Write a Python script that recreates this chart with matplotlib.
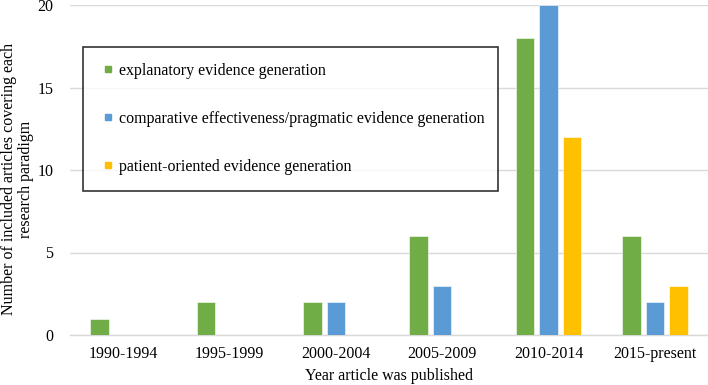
import matplotlib.pyplot as plt
from matplotlib.lines import Line2D
import numpy as np

plt.rcParams['font.family'] = ['Liberation Serif', 'DejaVu Serif']

periods = ['1990-1994', '1995-1999', '2000-2004', '2005-2009',
           '2010-2014', '2015-present']
explanatory = [1, 2, 2, 6, 18, 6]
comparative = [0, 0, 2, 3, 20, 2]
patient = [0, 0, 0, 0, 12, 3]

labels = ['explanatory evidence generation',
          'comparative effectiveness/pragmatic evidence generation',
          'patient-oriented evidence generation']
colors = ['#70AD47', '#5B9BD5', '#FFC000']

fs = 11.5

fig = plt.figure(figsize=(7.08, 3.85), dpi=100)
ax = fig.add_axes([70 / 708, 50 / 385, 638 / 708, 330 / 385])

x = np.arange(len(periods))
w = 0.175
step = 0.221
for i, vals in enumerate([explanatory, comparative, patient]):
    ax.bar(x + (i - 1) * step, vals, w, color=colors[i],
           edgecolor='white', linewidth=0.4, zorder=3)

ax.set_xlim(-0.5, len(periods) - 0.5)
ax.set_ylim(0, 20)
ax.set_yticks([0, 5, 10, 15, 20])
ax.set_xticks(x)
ax.set_xticklabels(periods)
ax.tick_params(axis='both', length=0, labelsize=fs)
ax.tick_params(axis='y', pad=12)
ax.tick_params(axis='x', pad=8)

ax.grid(axis='y', color='#d9d9d9', linewidth=1.0, zorder=0)
for s in ['top', 'right', 'left']:
    ax.spines[s].set_visible(False)
ax.spines['bottom'].set_color('#d9d9d9')
ax.spines['bottom'].set_linewidth(1.0)

ax.set_xlabel('Year article was published', fontsize=fs, labelpad=4)
ax.set_ylabel('Number of included articles covering each\nresearch paradigm',
              fontsize=fs, linespacing=1.1)
ax.yaxis.set_label_coords(-0.056, 0.473)

# small square swatches like the original legend
handles = [Line2D([], [], marker='s', linestyle='none', markersize=4.3,
                  markerfacecolor=c, markeredgecolor=c) for c in colors]
leg = ax.legend(handles, labels, loc='upper left',
                bbox_to_anchor=(0.02, 0.873, 0.651, 0.0), mode='expand',
                fontsize=fs, frameon=True, fancybox=False,
                labelspacing=2.0, borderpad=1.0, handlelength=1.2,
                handletextpad=0.1, borderaxespad=0)
leg.get_frame().set_edgecolor('black')
leg.get_frame().set_linewidth(1.2)
leg.set_zorder(5)

plt.savefig('out.png', dpi=100)
